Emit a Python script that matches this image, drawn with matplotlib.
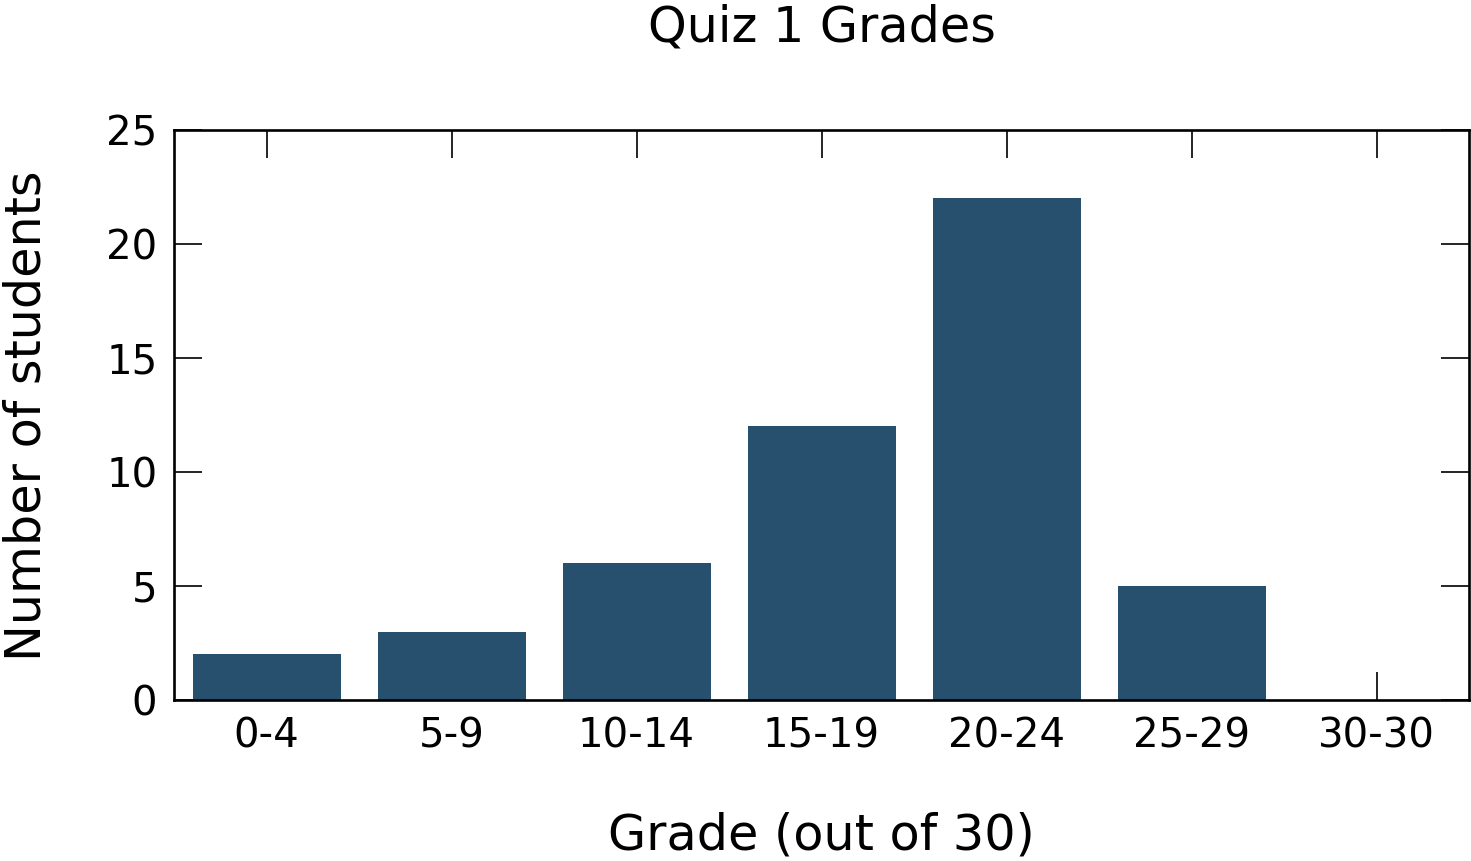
import numpy as np
import matplotlib
matplotlib.use("Agg")
import matplotlib.pyplot as plt

categories = ["0-4", "5-9", "10-14", "15-19", "20-24", "25-29", "30-30"]
counts = [2, 3, 6, 12, 22, 5, 0]

fig = plt.figure(figsize=(14.71, 8.61), dpi=100)
ax = fig.add_axes([174 / 1471, 1 - 700 / 861, (1469 - 174) / 1471, (700 - 130) / 861])

x = np.arange(len(categories))
ax.bar(x, counts, width=0.8, color="#274f6e", zorder=3)

ax.set_xlim(-0.5, len(categories) - 0.5)
ax.set_ylim(0, 25)
ax.set_xticks(x)
ax.set_xticklabels(categories)
ax.set_yticks([0, 5, 10, 15, 20, 25])

ax.tick_params(axis="both", direction="in", length=20, width=1.2, labelsize=29,
               top=True, right=True, pad=12, zorder=1)
for side in ax.spines.values():
    side.set_linewidth(1.9)
    side.set_zorder(4)

fig.text(0.5585, 1 - 836 / 861, "Grade (out of 30)", fontsize=35.5, ha="center", va="center")
fig.text(27 / 1471, 1 - 416 / 861, "Number of students", fontsize=35.5, ha="center",
         va="center", rotation=90)
fig.text(0.5585, 1 - 27 / 861, "Quiz 1 Grades", fontsize=35.5, ha="center", va="center")

fig.savefig("out.png", dpi=100)
